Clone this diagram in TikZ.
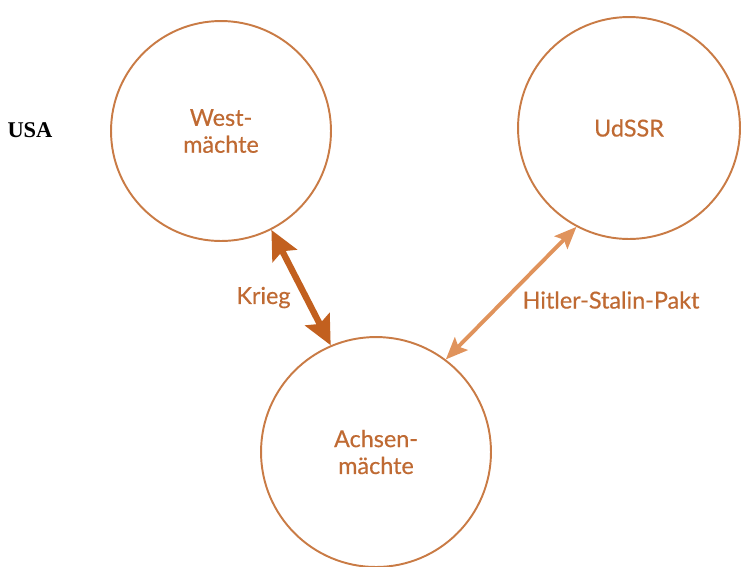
\documentclass[tikz,border=0pt]{standalone}
\usepackage{fontspec}
\setmainfont{Lato}
\newfontfamily\powerfont{Lato}[FakeBold=0.5]
\newfontfamily\usafont{Liberation Serif}
\usetikzlibrary{arrows.meta}
\definecolor{ring}{HTML}{C97B45}
\definecolor{label}{HTML}{BF6A33}
\definecolor{war}{HTML}{C2601F}
\definecolor{pact}{HTML}{E0935C}
\tikzstyle{power}=[
    draw = ring,
    line width = 1.1pt,
    text = label,
    circle,
    align = center,
    font = \powerfont\fontsize{13.3}{15.3}\selectfont
]

\begin{document}
\begin{tikzpicture}[x=0.02cm, y=-0.02cm, rel/.style = {text = label, font = \powerfont\fontsize{13.3}{15.3}\selectfont}]
        \useasboundingbox (0,0) rectangle (742,566);

        \node[power, minimum size = 4.4cm] (west) at (221,131) {West-\\mächte};
        \node[power, minimum size = 4.44cm] (udssr) at (629,128) {UdSSR};
        \node[power, minimum size = 4.6cm] (achsen) at (376,452) {Achsen-\\mächte};
        \node[font = \usafont\bfseries\fontsize{12.8}{15}\selectfont] (usa) at (30,130) {USA};

        \draw[war, line width = 3.6pt, {Stealth[length=5.8mm, width=5.4mm, inset=1mm]}-{Stealth[length=5.8mm, width=5.4mm, inset=1mm]}]
            (west.-63) -- (achsen.113) node [midway, left = 0.3mm, yshift = -0.2cm, rel] {Krieg};
        \draw[pact, line width = 2.2pt, {Stealth[length=4.4mm, width=3.6mm, inset=0.8mm]}-{Stealth[length=4.4mm, width=3.6mm, inset=0.8mm]}]
            (udssr.-118) -- (achsen.53);
        \node[rel] (pakt) at (611,300) {Hitler-Stalin-Pakt};

    \end{tikzpicture}
\end{document}
